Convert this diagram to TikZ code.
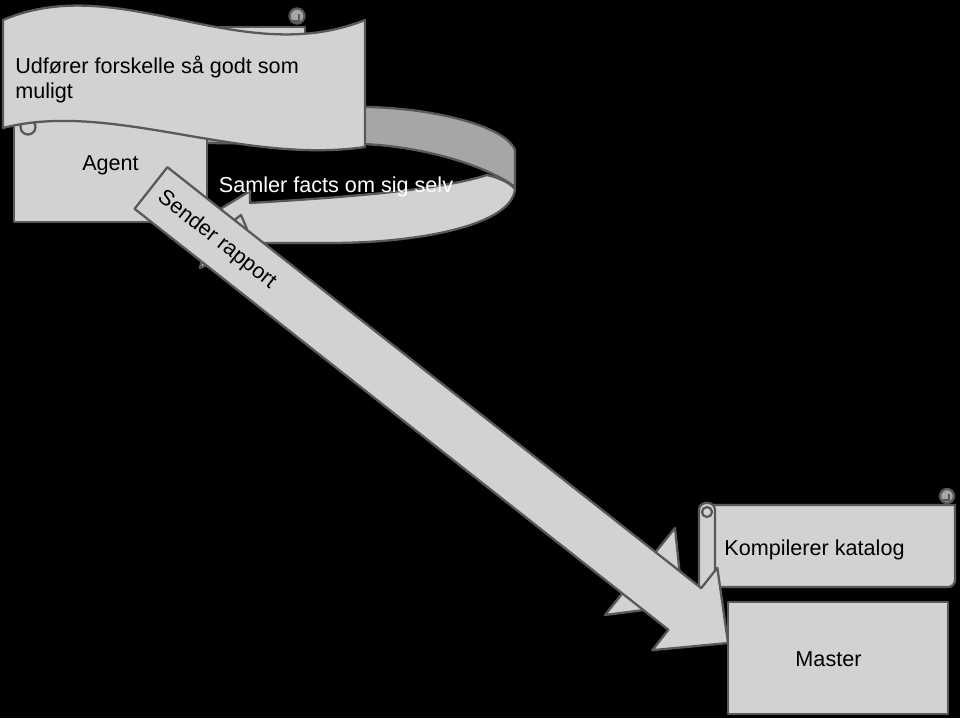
\documentclass[tikz,border=0pt]{standalone}
\usepackage{fontspec}
\setmainfont{Liberation Sans}
\usetikzlibrary{calc}
\definecolor{boxgray}{RGB}{210,210,210}
\definecolor{bandgray}{RGB}{166,166,166}
\definecolor{edgegray}{RGB}{89,89,89}
\newcommand{\diafont}{\fontsize{12.3}{14.2}\selectfont}

\begin{document}
\begin{tikzpicture}[x=0.02cm, y=-0.02cm,
    paper/.style={draw=edgegray, fill=boxgray, line width=1.3pt, line join=round},
    backside/.style={paper, fill=bandgray},
    box/.style={rectangle, paper, inner sep=0pt},
    txt/.style={font=\diafont, text=black, inner sep=0pt}
]
    \fill[black] (0,0) rectangle (960,718);
    \useasboundingbox (0,0) rectangle (960,718);

    \draw[paper] (675,528) -- (605,615) -- (683,605) -- cycle;

    \draw[backside] (200,112) -- (367,107) .. controls (430,108) and (505,125) .. (515,150)
        -- (515,187) .. controls (490,168) and (430,147) .. (363,144) -- (200,143) -- cycle;
    \draw[paper] (515,189) .. controls (512,225) and (420,243) .. (330,243) -- (255,243)
        -- (200,268) -- (212,214) -- (250,191) -- (250,203)
        .. controls (350,197) and (440,190) .. (487,175)
        .. controls (500,178) and (510,183) .. (515,189) -- cycle;
    \draw[edgegray, line width=1.3pt, line join=round] (229,224) -- (241,215) -- (247,229);

    \node[box, minimum width=3.86cm, minimum height=2.28cm, txt] (agent) at (110.5,165) {Agent};

    \draw[paper] (14,27) rectangle (305,112);
    \draw[backside] (297,16) circle (0.15cm);
    \draw[edgegray, line width=1pt] (293,21) -- (299,21) -- (299,14);
    \draw[paper] (28,127) circle (0.15cm);

    \draw[paper] (3,20) .. controls (120,-30) and (240,70) .. (365,20) -- (365,147)
        .. controls (240,165) and (110,100) .. (3,128) -- cycle;
    \node[txt, anchor=north west, align=left] (wavetxt) at (15,56) {Udfører forskelle så godt som\\muligt};

    \node[txt, text=white] (loopTxt) at (336,186.5) {Samler facts om sig selv};

    \draw[paper] (713,505) -- (955,505) [rounded corners=0.14cm] -- (955,587) [sharp corners] -- (713,587) -- cycle;
    \draw[backside] (947,496) circle (0.14cm);
    \draw[edgegray, line width=1pt] (943,500) -- (949,500) -- (949,494);
    \draw[paper, rounded corners=0.14cm] (699,600) -- (699,503) -- (715,503) -- (715,600);
    \draw[paper] (707,512) circle (0.1cm);
    \node[txt] (kompTxt) at (814.5,549.5) {Kompilerer katalog};

    \node[box, minimum width=4.4cm, minimum height=2.24cm] (master) at (838,658) {};
    \node[txt] (masterTxt) at (828.5,659.5) {Master};

    \coordinate (rapStart) at (151,188);
    \coordinate (rapEnd) at (728,643);
    \coordinate (rapBase) at ($(rapEnd)!1.1cm!(rapStart)$);
    \draw[paper] ($(rapStart)!0.53cm!90:(rapEnd)$) -- ($(rapBase)!0.53cm!90:(rapEnd)$)
        -- ($(rapBase)!1.05cm!90:(rapEnd)$) -- (rapEnd)
        -- ($(rapBase)!1.05cm!-90:(rapEnd)$) -- ($(rapBase)!0.53cm!-90:(rapEnd)$)
        -- ($(rapStart)!0.53cm!-90:(rapEnd)$) -- cycle;
    \path (rapStart) -- (rapEnd) node[pos=0.114, sloped, txt] (rapTxt) {Sender rapport};
\end{tikzpicture}
\end{document}
